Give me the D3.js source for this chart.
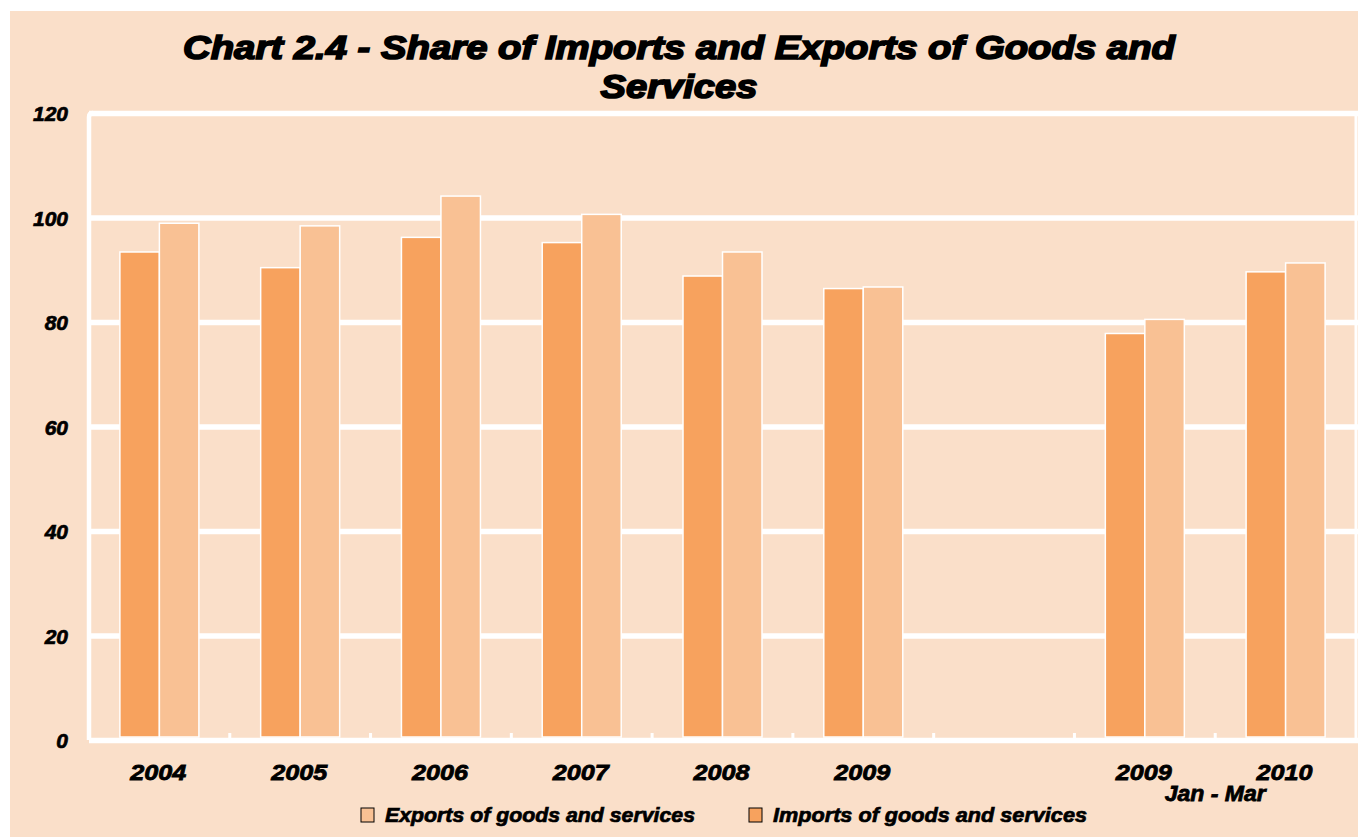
<!DOCTYPE html>
<html>
<head>
<meta charset="utf-8">
<script src="https://cdn.jsdelivr.net/npm/d3@7"></script>
<style>
  html, body { margin: 0; padding: 0; background: #ffffff; }
  svg { display: block; }
  text { font-family: "Liberation Sans", Arial, Helvetica, sans-serif; font-weight: bold; font-style: italic; fill: #000; stroke: #000; }
</style>
</head>
<body>
<svg id="chart" width="1358" height="837"></svg>
<script>
// Annual shares plus a Jan–Mar comparison; one empty slot separates the two groups
const categories = ["2004", "2005", "2006", "2007", "2008", "2009", "", "2009", "2010"];
const importsShare = [93.4, 90.4, 96.2, 95.2, 88.8, 86.4, null, 77.8, 89.6];
const exportsShare = [98.9, 98.4, 104.1, 100.6, 93.4, 86.7, null, 80.5, 91.3];
const yTicks = [0, 20, 40, 60, 80, 100, 120];
const periodNote = "Jan - Mar";
const titleLines = ["Chart 2.4 - Share of Imports and Exports of Goods and", "Services"];
const legendItems = [
  { label: "Exports of goods and services", key: "exports" },
  { label: "Imports of goods and services", key: "imports" }
];

const colors = { imports: "#F7A25E", exports: "#F9C194", panel: "#FADFC9", grid: "#FFFFFF" };

const svg = d3.select("#chart");
const W = 1358, H = 837;
const plot = { left: 89, right: 1356, top: 113, bottom: 740 };

// page panel
svg.append("rect").attr("x", 10).attr("y", 11).attr("width", W - 10).attr("height", H - 11)
  .attr("fill", colors.panel);

const x = d3.scaleBand().domain(d3.range(categories.length))
  .range([plot.left, plot.right]).padding(0);
const y = d3.scaleLinear().domain([0, 120]).range([plot.bottom, plot.top]);

// title
const title = svg.append("g");
title.append("text").attr("x", 679).attr("y", 59).attr("text-anchor", "middle")
  .attr("font-size", 34).attr("textLength", 992).attr("lengthAdjust", "spacingAndGlyphs")
  .attr("stroke-width", 1.7)
  .text(titleLines[0]);
title.append("text").attr("x", 679).attr("y", 98).attr("text-anchor", "middle")
  .attr("font-size", 34).attr("textLength", 157).attr("lengthAdjust", "spacingAndGlyphs")
  .attr("stroke-width", 1.7)
  .text(titleLines[1]);

// plot frame: left axis and right edge
svg.append("path")
  .attr("d", `M${plot.left},${plot.bottom} L${plot.left},${plot.top + 4} Q${plot.left},${plot.top} ${plot.left + 4},${plot.top}`)
  .attr("fill", "none").attr("stroke", colors.grid).attr("stroke-width", 4.5);
svg.append("line").attr("x1", plot.right).attr("x2", plot.right)
  .attr("y1", plot.top).attr("y2", plot.bottom)
  .attr("stroke", colors.grid).attr("stroke-width", 3);

// horizontal gridlines
const yAxis = d3.axisLeft(y).tickValues(yTicks).tickSize(-(W - plot.left)).tickFormat(d => d);
const gy = svg.append("g").attr("transform", `translate(${plot.left},0)`).call(yAxis);
gy.select(".domain").remove();
gy.selectAll(".tick line").attr("stroke", colors.grid).attr("stroke-width", 5.5);
gy.selectAll(".tick text")
  .attr("x", -21).attr("dy", "0.36em")
  .attr("font-size", 21).attr("font-family", null).attr("fill", "#000")
  .attr("stroke", "#000").attr("stroke-width", 0.7);

// bars
const barW = 39.5;
const bars = svg.append("g");
categories.forEach((c, i) => {
  const cx = x(i) + x.bandwidth() / 2;
  if (importsShare[i] != null) {
    bars.append("rect").attr("x", cx - barW).attr("width", barW)
      .attr("y", y(importsShare[i])).attr("height", y(0) - y(importsShare[i]) - 3)
      .attr("fill", colors.imports).attr("stroke", "#fff").attr("stroke-width", 1.5);
  }
  if (exportsShare[i] != null) {
    bars.append("rect").attr("x", cx).attr("width", barW)
      .attr("y", y(exportsShare[i])).attr("height", y(0) - y(exportsShare[i]) - 3)
      .attr("fill", colors.exports).attr("stroke", "#fff").attr("stroke-width", 1.5);
  }
});

// small tick stubs between category slots
const gx = svg.append("g").attr("transform", `translate(0,${plot.bottom})`);
d3.range(1, categories.length).forEach(i => {
  gx.append("rect").attr("x", x(i) - 1.5).attr("y", -7).attr("width", 3).attr("height", 5)
    .attr("fill", colors.grid);
});

// category labels
categories.forEach((c, i) => {
  if (!c) return;
  svg.append("text").attr("x", x(i) + x.bandwidth() / 2 - 1).attr("y", 780)
    .attr("text-anchor", "middle").attr("font-size", 22)
    .attr("textLength", 56).attr("lengthAdjust", "spacingAndGlyphs")
    .attr("stroke-width", 0.8).text(c);
});
svg.append("text").attr("x", x(8)).attr("y", 801)
  .attr("text-anchor", "middle").attr("font-size", 22)
  .attr("textLength", 101).attr("lengthAdjust", "spacingAndGlyphs")
  .attr("stroke-width", 0.8).text(periodNote);

// legend
const legendX = [361, 749];
legendItems.forEach((item, k) => {
  const g = svg.append("g").attr("transform", `translate(${legendX[k]},808)`);
  g.append("rect").attr("width", 13).attr("height", 14)
    .attr("fill", colors[item.key]).attr("stroke", "#000").attr("stroke-width", 1);
  g.append("text").attr("x", 24).attr("y", 14).attr("font-size", 20)
    .attr("textLength", k === 0 ? 310 : 314).attr("lengthAdjust", "spacingAndGlyphs")
    .attr("stroke-width", 0.7).text(item.label);
});
</script>
</body>
</html>
